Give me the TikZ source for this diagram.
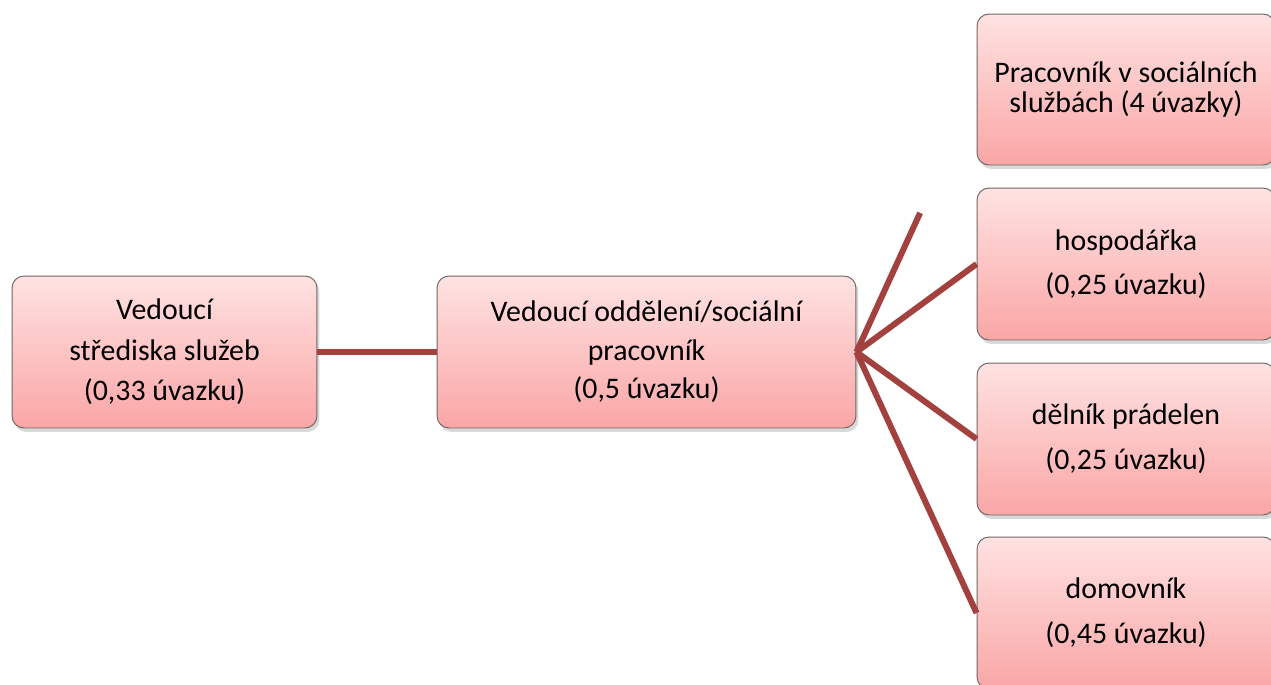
\documentclass[tikz,border=0pt]{standalone}
\usepackage{fontspec}
\setmainfont{Carlito}
\usetikzlibrary{calc,shadows}
\definecolor{boxtop}{RGB}{255,226,226}
\definecolor{boxbottom}{RGB}{250,166,166}
\definecolor{boxline}{RGB}{112,102,102}
\definecolor{linkred}{RGB}{163,65,63}
\tikzset{
	unitbox/.style={draw=boxline, line width=0.55pt, rounded corners=0.24cm,
		top color=boxtop, bottom color=boxbottom, align=center, inner sep=0pt,
		drop shadow={opacity=0.3, shadow xshift=0.05cm, shadow yshift=-0.08cm},
		minimum height=3.04cm},
	txt/.style={font=\fontsize{17}{#1}\selectfont},
	link/.style={linkred, line width=0.12cm}
}

\begin{document}
\begin{tikzpicture}[x=0.02cm, y=-0.02cm]
			%%%%% FRAME %%%%%
			\useasboundingbox (0, 0) rectangle (1271, 684);
			\clip (0, 0) rectangle (1271, 684);
			
			%%%%% BOXES %%%%%
			\node[unitbox, txt=23pt, minimum width=6.1cm] (head) at (164.5, 352)
				{Vedoucí\\střediska služeb\\(0,33 úvazku)};
			\node[unitbox, txt=22pt, minimum width=8.38cm] (dept) at (646.5, 352)
				{Vedoucí oddělení/sociální\\pracovník\\(0,5 úvazku)};
			
			\node[unitbox, txt=17pt, minimum width=5.96cm, minimum height=3.02cm] (care) at (1126, 89.5)
				{Pracovník v sociálních\\službách (4 úvazky)};
			\node[unitbox, txt=25pt, minimum width=5.96cm] (house) at (1126, 264)
				{hospodářka\\(0,25 úvazku)};
			\node[unitbox, txt=25.5pt, minimum width=5.96cm] (laundry) at (1126, 439)
				{dělník prádelen\\(0,25 úvazku)};
			\node[unitbox, txt=25.5pt, minimum width=5.96cm] (janitor) at (1126, 613)
				{domovník\\(0,45 úvazku)};
			
			%%%%% LINKS %%%%%
			\coordinate (stub) at ($(dept.east)!0.53!(care.west)$);
			\draw[link] (head.east) -- (dept.west);
			\draw[link] (dept.east) -- (stub);
			\draw[link] (dept.east) -- (house.west);
			\draw[link] (dept.east) -- (laundry.west);
			\draw[link] (dept.east) -- (janitor.west);
\end{tikzpicture}
\end{document}
